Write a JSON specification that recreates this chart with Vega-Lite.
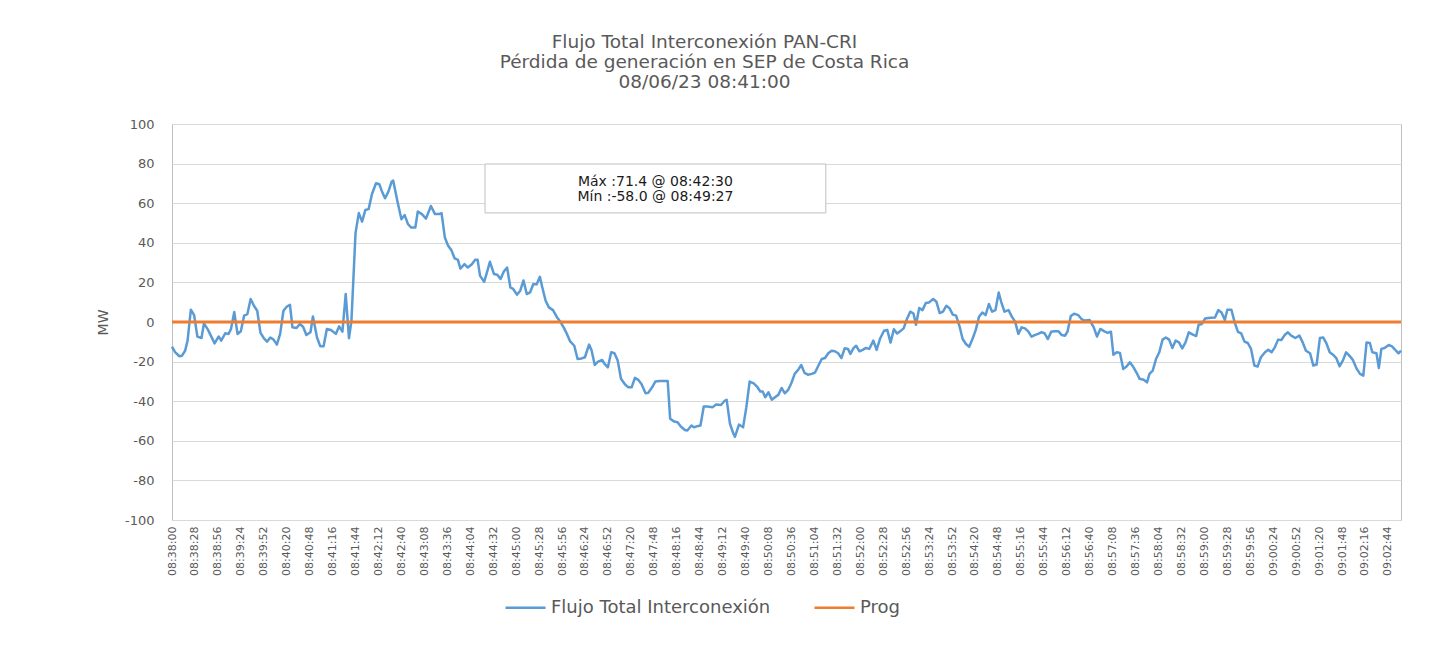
{
  "$schema": "https://vega.github.io/schema/vega-lite/v6.json",
  "autosize": "none",
  "width": 1229,
  "height": 396,
  "padding": {"left": 172, "top": 124, "right": 46, "bottom": 138},
  "background": "white",
  "config": {
    "font": "DejaVu Sans",
    "view": {"stroke": "#BFBFBF", "strokeWidth": 1},
    "axis": {"labelColor": "#595959", "titleColor": "#595959", "gridColor": "#D9D9D9", "domain": false, "ticks": false, "labelFont": "DejaVu Sans", "titleFont": "DejaVu Sans", "labelOverlap": false},
    "legend": {"labelFont": "DejaVu Sans"}
  },
  "title": {
    "text": ["Flujo Total Interconexión PAN-CRI", "Pérdida de generación en SEP de Costa Rica", "08/06/23 08:41:00"],
    "fontSize": 18.5, "font": "DejaVu Sans", "fontWeight": "normal", "color": "#595959",
    "lineHeight": 20, "anchor": "middle", "frame": "group", "offset": 27, "dx": -82
  },
  "datasets": {
    "flujo": [
      {"s":0,"v":-12.5},{"s":4,"v":-15.3},{"s":9,"v":-17.3},{"s":12,"v":-17.1},{"s":16,"v":-14.5},{"s":19,"v":-9.4},{"s":23,"v":6.2},{"s":27,"v":3.5},{"s":31,"v":-7.4},{"s":36,"v":-8.1},{"s":39,"v":-0.7},{"s":44,"v":-4},{"s":48,"v":-7.4},{"s":52,"v":-10.8},{"s":57,"v":-7.3},{"s":60,"v":-9.4},{"s":65,"v":-5.7},{"s":69,"v":-6.1},{"s":72,"v":-3.5},{"s":76,"v":5},{"s":80,"v":-6.1},{"s":84,"v":-4.7},{"s":88,"v":3.2},{"s":92,"v":4},{"s":96,"v":11.6},{"s":100,"v":8.2},{"s":104,"v":5.7},{"s":108,"v":-5.5},{"s":112,"v":-8.1},{"s":116,"v":-9.9},{"s":120,"v":-7.8},{"s":124,"v":-8.9},{"s":128,"v":-11.4},{"s":132,"v":-6},{"s":136,"v":5.7},{"s":140,"v":7.7},{"s":144,"v":8.7},{"s":147,"v":-2.7},{"s":152,"v":-3},{"s":156,"v":-1},{"s":160,"v":-2.4},{"s":164,"v":-6.6},{"s":169,"v":-5.2},{"s":172,"v":2.8},{"s":177,"v":-7.8},{"s":181,"v":-12.3},{"s":185,"v":-12.3},{"s":189,"v":-3.5},{"s":194,"v":-4},{"s":200,"v":-6},{"s":204,"v":-2.2},{"s":208,"v":-4.9},{"s":212,"v":14.1},{"s":216,"v":-8.2},{"s":219,"v":0.6},{"s":224,"v":45},{"s":228,"v":55},{"s":232,"v":50.7},{"s":236,"v":56.6},{"s":240,"v":57},{"s":244,"v":64.5},{"s":249,"v":70.1},{"s":253,"v":69.6},{"s":256,"v":66.2},{"s":260,"v":62.5},{"s":264,"v":65.7},{"s":268,"v":70.8},{"s":270,"v":71.4},{"s":275,"v":61.2},{"s":280,"v":51.9},{"s":284,"v":54},{"s":288,"v":49.4},{"s":292,"v":47.7},{"s":297,"v":47.7},{"s":300,"v":55.8},{"s":305,"v":54.5},{"s":310,"v":52.2},{"s":316,"v":58.6},{"s":321,"v":54.5},{"s":326,"v":54.5},{"s":329,"v":55},{"s":333,"v":42.7},{"s":337,"v":38.5},{"s":341,"v":36.3},{"s":345,"v":32.1},{"s":349,"v":31.4},{"s":352,"v":27},{"s":357,"v":29.2},{"s":361,"v":27.5},{"s":366,"v":29.2},{"s":370,"v":31.4},{"s":373,"v":31.4},{"s":376,"v":23.3},{"s":381,"v":20.3},{"s":385,"v":25.9},{"s":388,"v":30.4},{"s":393,"v":24.2},{"s":397,"v":23.9},{"s":401,"v":21.7},{"s":405,"v":25.5},{"s":409,"v":27.5},{"s":413,"v":17.4},{"s":416,"v":16.9},{"s":421,"v":13.8},{"s":425,"v":15.8},{"s":429,"v":21},{"s":433,"v":14.1},{"s":437,"v":14.9},{"s":441,"v":19.2},{"s":445,"v":19},{"s":449,"v":22.8},{"s":452,"v":17.4},{"s":456,"v":10.7},{"s":460,"v":7.4},{"s":465,"v":6},{"s":470,"v":2.3},{"s":474,"v":0.1},{"s":478,"v":-2.7},{"s":482,"v":-6},{"s":486,"v":-9.8},{"s":491,"v":-12},{"s":495,"v":-18.7},{"s":500,"v":-18.4},{"s":504,"v":-17.8},{"s":509,"v":-11.4},{"s":512,"v":-14.1},{"s":516,"v":-21.7},{"s":520,"v":-20},{"s":525,"v":-19.2},{"s":528,"v":-21.2},{"s":532,"v":-22.9},{"s":536,"v":-15.3},{"s":540,"v":-15.8},{"s":544,"v":-19.5},{"s":548,"v":-28.7},{"s":553,"v":-31.6},{"s":557,"v":-33},{"s":561,"v":-33},{"s":565,"v":-28.2},{"s":569,"v":-29.2},{"s":573,"v":-31.3},{"s":578,"v":-36},{"s":581,"v":-35.8},{"s":586,"v":-33},{"s":590,"v":-30},{"s":595,"v":-29.8},{"s":605,"v":-29.8},{"s":608,"v":-48.9},{"s":613,"v":-50.3},{"s":617,"v":-50.6},{"s":621,"v":-52.8},{"s":626,"v":-54.5},{"s":629,"v":-54.8},{"s":634,"v":-52.3},{"s":637,"v":-53.2},{"s":641,"v":-52.6},{"s":645,"v":-52.3},{"s":649,"v":-42.7},{"s":653,"v":-42.7},{"s":660,"v":-43},{"s":664,"v":-41.7},{"s":670,"v":-41.9},{"s":674,"v":-40},{"s":677,"v":-39.3},{"s":681,"v":-51.4},{"s":685,"v":-56.2},{"s":687,"v":-58},{"s":692,"v":-51.8},{"s":697,"v":-53.2},{"s":701,"v":-43},{"s":705,"v":-30.1},{"s":710,"v":-31},{"s":714,"v":-32.6},{"s":718,"v":-35.1},{"s":721,"v":-35.1},{"s":724,"v":-38},{"s":728,"v":-35.5},{"s":732,"v":-39.3},{"s":736,"v":-38},{"s":740,"v":-36.8},{"s":744,"v":-33.3},{"s":748,"v":-36},{"s":752,"v":-34.3},{"s":756,"v":-30.8},{"s":760,"v":-26.2},{"s":765,"v":-23.7},{"s":768,"v":-21.7},{"s":772,"v":-25.7},{"s":776,"v":-26.6},{"s":781,"v":-26.2},{"s":785,"v":-25.4},{"s":789,"v":-22},{"s":793,"v":-18.7},{"s":797,"v":-18.2},{"s":801,"v":-15.8},{"s":805,"v":-14.5},{"s":809,"v":-14.8},{"s":813,"v":-15.8},{"s":817,"v":-18.2},{"s":821,"v":-13.3},{"s":825,"v":-13.6},{"s":828,"v":-16.1},{"s":832,"v":-13.1},{"s":835,"v":-12},{"s":839,"v":-14.8},{"s":843,"v":-14.1},{"s":847,"v":-13.1},{"s":851,"v":-13.6},{"s":856,"v":-9.4},{"s":860,"v":-14.1},{"s":864,"v":-8.6},{"s":869,"v":-4.4},{"s":873,"v":-4},{"s":877,"v":-10.4},{"s":881,"v":-3.7},{"s":885,"v":-5.8},{"s":889,"v":-4.6},{"s":893,"v":-3.2},{"s":897,"v":1.5},{"s":901,"v":5.2},{"s":905,"v":4.3},{"s":908,"v":-1.4},{"s":912,"v":7.1},{"s":916,"v":6},{"s":920,"v":9.6},{"s":924,"v":9.9},{"s":929,"v":11.6},{"s":933,"v":10.2},{"s":937,"v":4.5},{"s":941,"v":5.2},{"s":945,"v":8.2},{"s":949,"v":6.9},{"s":953,"v":3.7},{"s":957,"v":3.2},{"s":961,"v":-1.9},{"s":965,"v":-8.6},{"s":969,"v":-11.1},{"s":973,"v":-12.5},{"s":977,"v":-8.6},{"s":981,"v":-4},{"s":985,"v":2.7},{"s":989,"v":4.8},{"s":993,"v":3.5},{"s":997,"v":9.1},{"s":1001,"v":5.2},{"s":1005,"v":6},{"s":1009,"v":14.9},{"s":1012,"v":10.2},{"s":1016,"v":5.2},{"s":1021,"v":6},{"s":1025,"v":2.7},{"s":1029,"v":0.2},{"s":1033,"v":-6},{"s":1037,"v":-2.7},{"s":1041,"v":-3.2},{"s":1045,"v":-4.7},{"s":1049,"v":-7.4},{"s":1053,"v":-6.6},{"s":1057,"v":-6},{"s":1061,"v":-5.2},{"s":1065,"v":-5.7},{"s":1069,"v":-8.6},{"s":1073,"v":-4.9},{"s":1077,"v":-4.7},{"s":1082,"v":-4.7},{"s":1086,"v":-6.6},{"s":1090,"v":-6.9},{"s":1093,"v":-4.8},{"s":1097,"v":3},{"s":1101,"v":4.2},{"s":1106,"v":3.5},{"s":1110,"v":1.5},{"s":1114,"v":0.7},{"s":1120,"v":1},{"s":1125,"v":-2.7},{"s":1129,"v":-7.3},{"s":1133,"v":-3.5},{"s":1138,"v":-4.7},{"s":1142,"v":-5.5},{"s":1146,"v":-4.9},{"s":1149,"v":-16.6},{"s":1153,"v":-15.3},{"s":1157,"v":-15.6},{"s":1161,"v":-23.7},{"s":1165,"v":-22.5},{"s":1169,"v":-20.4},{"s":1173,"v":-22.5},{"s":1177,"v":-25.4},{"s":1181,"v":-28.7},{"s":1186,"v":-29.2},{"s":1190,"v":-30.5},{"s":1193,"v":-26.2},{"s":1197,"v":-24.6},{"s":1201,"v":-18.7},{"s":1205,"v":-15.3},{"s":1209,"v":-8.9},{"s":1213,"v":-7.8},{"s":1217,"v":-8.9},{"s":1221,"v":-13.1},{"s":1225,"v":-9.4},{"s":1229,"v":-10.3},{"s":1233,"v":-13.3},{"s":1237,"v":-10.3},{"s":1241,"v":-5.2},{"s":1246,"v":-6.4},{"s":1250,"v":-7.1},{"s":1253,"v":-1.4},{"s":1257,"v":-1},{"s":1261,"v":1.8},{"s":1265,"v":2},{"s":1273,"v":2.3},{"s":1277,"v":6},{"s":1281,"v":4.8},{"s":1285,"v":1},{"s":1288,"v":6.2},{"s":1293,"v":6.2},{"s":1297,"v":-0.2},{"s":1301,"v":-5},{"s":1305,"v":-5.8},{"s":1309,"v":-9.9},{"s":1313,"v":-10.6},{"s":1317,"v":-13.6},{"s":1321,"v":-22},{"s":1325,"v":-22.5},{"s":1329,"v":-17.8},{"s":1334,"v":-15.3},{"s":1338,"v":-14},{"s":1342,"v":-15.3},{"s":1346,"v":-12.8},{"s":1350,"v":-8.9},{"s":1354,"v":-9.1},{"s":1358,"v":-6.6},{"s":1362,"v":-5.2},{"s":1366,"v":-6.9},{"s":1371,"v":-8.1},{"s":1376,"v":-6.9},{"s":1380,"v":-10.3},{"s":1384,"v":-14.5},{"s":1389,"v":-15.8},{"s":1393,"v":-22},{"s":1397,"v":-21.5},{"s":1401,"v":-8.1},{"s":1405,"v":-7.8},{"s":1409,"v":-10.8},{"s":1413,"v":-15.3},{"s":1417,"v":-16.5},{"s":1421,"v":-18.2},{"s":1425,"v":-22.4},{"s":1429,"v":-19.5},{"s":1433,"v":-15.3},{"s":1437,"v":-17},{"s":1441,"v":-19},{"s":1446,"v":-23.7},{"s":1450,"v":-26.2},{"s":1454,"v":-27.1},{"s":1458,"v":-10.3},{"s":1462,"v":-10.6},{"s":1465,"v":-15.3},{"s":1470,"v":-15.8},{"s":1473,"v":-23.2},{"s":1476,"v":-13.6},{"s":1480,"v":-13.1},{"s":1485,"v":-11.6},{"s":1489,"v":-12.3},{"s":1493,"v":-14.1},{"s":1497,"v":-15.8},{"s":1500,"v":-14.5}
    ],
    "prog": [{"s":0,"v":0},{"s":1500,"v":0}],
    "cuadro": [{"s":382,"s2":798,"v":79.8,"v2":55.1}],
    "nota": [
      {"s":590,"v":70.8,"texto":"Máx :71.4 @ 08:42:30"},
      {"s":590,"v":63.2,"texto":"Mín :-58.0 @ 08:49:27"}
    ]
  },
  "encoding": {
    "x": {
      "field": "s", "type": "quantitative",
      "scale": {"domain": [0, 1500], "nice": false, "zero": false},
      "axis": {
        "title": null, "grid": false, "labelAngle": -90, "labelFontSize": 11, "labelPadding": 6,
        "values": [0,28,56,84,112,140,168,196,224,252,280,308,336,364,392,420,448,476,504,532,560,588,616,644,672,700,728,756,784,812,840,868,896,924,952,980,1008,1036,1064,1092,1120,1148,1176,1204,1232,1260,1288,1316,1344,1372,1400,1428,1456,1484],
        "labelExpr": "timeFormat(datetime(2023, 5, 8, 8, 38, datum.value), '%H:%M:%S')",
        "labelOverlap": false
      }
    },
    "y": {
      "field": "v", "type": "quantitative",
      "scale": {"domain": [-100, 100], "nice": false},
      "axis": {
        "title": "MW", "titleFontSize": 14, "titleFontWeight": "normal", "titlePadding": 14,
        "values": [-100,-80,-60,-40,-20,0,20,40,60,80,100],
        "labelExpr": "toString(datum.value)", "labelOverlap": false,
        "labelFontSize": 13, "labelPadding": 18, "grid": true
      }
    }
  },
  "layer": [
    {
      "data": {"name": "flujo"},
      "mark": {"type": "line", "strokeWidth": 2.5, "strokeJoin": "round"},
      "encoding": {
        "color": {
          "datum": "Flujo Total Interconexión",
          "scale": {"domain": ["Flujo Total Interconexión", "Prog"], "range": ["#5B9BD5", "#ED7D31"]},
          "legend": {
            "title": null, "orient": "none", "legendX": 332, "legendY": 462, "direction": "horizontal",
            "symbolType": "stroke", "symbolSize": 1600, "symbolStrokeWidth": 2.5,
            "labelFontSize": 18, "labelColor": "#595959", "labelOffset": 4, "columnPadding": 38, "labelLimit": 0
          }
        }
      }
    },
    {
      "data": {"name": "prog"},
      "mark": {"type": "line", "strokeWidth": 3},
      "encoding": {"color": {"datum": "Prog"}}
    },
    {
      "data": {"name": "cuadro"},
      "mark": {"type": "rect", "fill": "white", "stroke": "#BFBFBF", "strokeWidth": 1},
      "encoding": {
        "x2": {"field": "s2"},
        "y2": {"field": "v2"}
      }
    },
    {
      "data": {"name": "nota"},
      "mark": {"type": "text", "fontSize": 14, "color": "#1a1a1a", "align": "center", "baseline": "middle"},
      "encoding": {"text": {"field": "texto"}}
    }
  ]
}
